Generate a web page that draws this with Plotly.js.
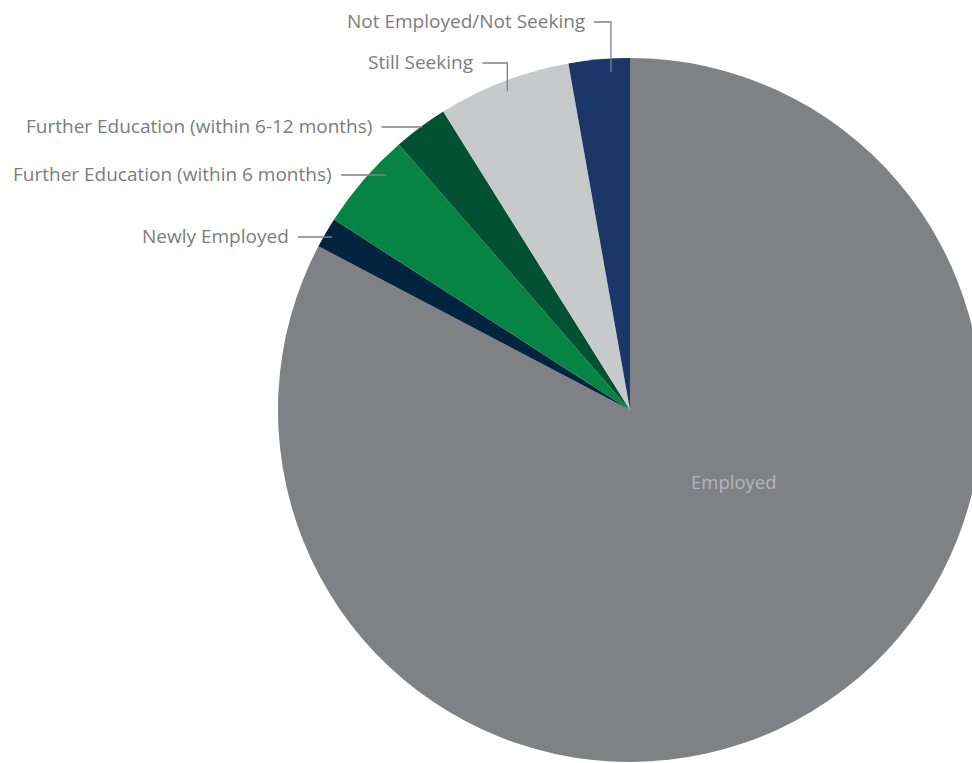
<!DOCTYPE html>
<html>
<head>
<meta charset="utf-8">
<script src="https://cdn.plot.ly/plotly-3.0.1.min.js"></script>
<style>
html,body{margin:0;padding:0;overflow:hidden;background:#fff;}
#chart{width:1000px;height:763px;}
</style>
</head>
<body>
<div id="chart"></div>
<script>
// ---- data ----
const labels = ['Employed','Newly Employed','Further Education (within 6 months)','Further Education (within 6-12 months)','Still Seeking','Not Employed/Not Seeking'];
const values = [82.7, 1.4, 4.5, 2.5, 6.1, 2.8];
const colors = ['#808185','#03243e','#068443','#015132','#c8c9cb','#1b3767'];

// ---- layout config ----
const W = 1000, H = 763;
const CX = 630, CY = 410, R = 352;
const textColor = '#7b7c7f';
const fontFam = '"Open Sans", Lato, sans-serif';
const fontSize = 19;
// per-label callout style: 'h' = horizontal line at label height ly ending at radius rf*R;
// 'elbow' = vertical line from a point inside the slice (fraction af of its angle, radius rf*R) up to ly, then left
const callout = [
  null,
  {type:'h', ly:237, len:34, rf:0.979},
  {type:'h', ly:175, len:45, rf:0.962},
  {type:'h', ly:127, len:41, rf:0.997},
  {type:'elbow', ly:63, len:25, rf:0.970, af:0.50},
  {type:'elbow', ly:22, len:17, rf:0.962, af:0.68}
];

const total = values.reduce((a,b)=>a+b,0);
const px = x => x / W;
const py = y => 1 - y / H;

const shapes = [];
const annotations = [];
const lineStyle = {color:'#7f8083', width:1.3};
let cum = 0;
values.forEach((v,i)=>{
  const a0 = cum / total * 2*Math.PI;
  cum += v;
  const a1 = cum / total * 2*Math.PI;
  const c = callout[i];
  if (!c) {
    annotations.push({x:px(734), y:py(481), xref:'paper', yref:'paper', text:labels[i], showarrow:false,
      font:{family:fontFam, size:18.5, color:'#b4b5b8'}, xanchor:'center', yanchor:'middle'});
    return;
  }
  let ex, ey;
  if (c.type === 'h') {
    const r = c.rf*R;
    const dy = CY - c.ly;
    // slice lies left of centre (angles > 180deg clockwise)
    ex = CX - Math.sqrt(Math.max(r*r - dy*dy, 0));
    ey = c.ly;
    shapes.push({type:'line', xref:'paper', yref:'paper', x0:px(ex-c.len), y0:py(ey), x1:px(ex), y1:py(ey), line:lineStyle});
  } else {
    const a = a0 + c.af*(a1-a0);
    ex = CX + c.rf*R*Math.sin(a);
    ey = CY - c.rf*R*Math.cos(a);
    shapes.push({type:'path', xref:'paper', yref:'paper',
      path:`M ${px(ex-c.len)},${py(c.ly)} L ${px(ex)},${py(c.ly)} L ${px(ex)},${py(ey)}`, line:lineStyle});
  }
  annotations.push({x:px(ex-c.len-7), y:py(c.ly-1), xref:'paper', yref:'paper', text:labels[i], showarrow:false,
    font:{family:fontFam, size:fontSize, color:textColor}, xanchor:'right', yanchor:'middle'});
});

const trace = {
  type:'pie',
  labels: labels,
  values: values,
  sort:false,
  direction:'clockwise',
  rotation:0,
  marker:{colors:colors, line:{width:0}},
  textinfo:'none',
  hoverinfo:'label+percent',
  domain:{x:[px(CX-R), px(CX+R)], y:[py(CY+R), py(CY-R)]},
  automargin:false
};

const layout = {
  width:W, height:H,
  margin:{l:0,r:0,t:0,b:0},
  showlegend:false,
  paper_bgcolor:'#ffffff',
  shapes:shapes,
  annotations:annotations
};

Plotly.newPlot('chart',[trace],layout,{displayModeBar:false, staticPlot:true});
</script>
</body>
</html>
